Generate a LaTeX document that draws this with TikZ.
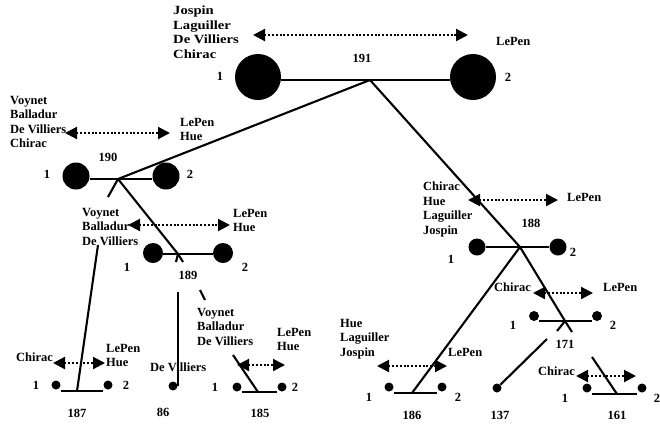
\documentclass[tikz,border=0pt]{standalone}
\usepackage{fontspec}
\setmainfont{Liberation Serif}
\newfontfamily\lbfam{Liberation Serif}
\newfontfamily\wdfam{Liberation Serif}[FakeStretch=1.17]
\usetikzlibrary{arrows.meta}
\newcommand\lbfont{\lbfam\fontsize{12.5}{14.5}\selectfont\bfseries}
\newcommand\wdfont{\wdfam\fontsize{12.5}{14.5}\selectfont\bfseries}
\begin{document}
\begin{tikzpicture}[x=1pt,y=-1pt,
  lbl/.style={font=\lbfont,inner sep=0pt,align=left,anchor=north west},
  wlbl/.style={font=\lbfont,inner sep=0pt,anchor=west},
  num/.style={font=\lbfont,inner sep=0pt},
  ball/.style={circle,fill=black,inner sep=0pt,minimum size=#1},
  link/.style={line width=2.1pt},
  pref/.style={line width=2.1pt,dash pattern=on 2pt off 1.8pt,
    {Triangle[length=12pt,width=12pt]}-{Triangle[length=12pt,width=12pt]}}]
\useasboundingbox (0,0) rectangle (660,424);

% ---------- node 191 ----------
\node[ball=46pt] (c191a) at (258,77) {};
\node[ball=46pt] (c191b) at (473,77) {};
\coordinate (j191) at (370,80);
\draw[link] (c191a.east |- j191) -- (c191b.west |- j191);
\node[lbl,font=\wdfont] (t191l) at (173,6) {Jospin\\Laguiller\\De Villiers\\Chirac};
\node[wlbl] (t191r) at (496,41) {LePen};
\coordinate (a191l) at (253,35);
\coordinate (a191r) at (468,35);
\draw[pref] (a191l) -- (a191r);
\node[num] (n191) at (362,58) {191};
\node[num] (k191a) at (220,76) {1};
\node[num] (k191b) at (508,77) {2};

% ---------- node 190 ----------
\node[ball=27pt] (c190a) at (76,176) {};
\node[ball=27pt] (c190b) at (166,176) {};
\coordinate (j190) at (118,179);
\draw[link] (c190a.east |- j190) -- (c190b.west |- j190);
\node[lbl] (t190l) at (10,96) {Voynet\\Balladur\\De Villiers\\Chirac};
\node[lbl] (t190r) at (180,118) {LePen\\Hue};
\coordinate (a190l) at (65,133);
\coordinate (a190r) at (170,133);
\draw[pref] (a190l) -- (a190r);
\node[num] (n190) at (108,157) {190};
\node[num] (k190a) at (47,174) {1};
\node[num] (k190b) at (190,174) {2};

% ---------- node 189 ----------
\node[ball=20pt] (c189a) at (153,253) {};
\node[ball=20pt] (c189b) at (223,253) {};
\coordinate (j189) at (178,254);
\draw[link] (c189a.east |- j189) -- (c189b.west |- j189);
\node[lbl] (t189l) at (82,208) {Voynet\\Balladur\\De Villiers};
\node[lbl] (t189r) at (233,209) {LePen\\Hue};
\coordinate (a189l) at (128,225);
\coordinate (a189r) at (230,225);
\draw[pref] (a189l) -- (a189r);
\node[num] (n189) at (188,275) {189};
\node[num] (k189a) at (127,267) {1};
\node[num] (k189b) at (245,267) {2};

% ---------- node 187 ----------
\node[ball=9pt] (c187a) at (56,385) {};
\node[ball=9pt] (c187b) at (108,385) {};
\coordinate (j187) at (77,391);
\draw[link] (c187a.east |- j187) -- (c187b.west |- j187);
\node[wlbl] (t187l) at (16,357) {Chirac};
\node[lbl] (t187r) at (106,344) {LePen\\Hue};
\coordinate (a187l) at (53,363);
\coordinate (a187r) at (105,363);
\draw[pref] (a187l) -- (a187r);
\node[num] (n187) at (77,413) {187};
\node[num] (k187a) at (36,385) {1};
\node[num] (k187b) at (126,385) {2};

% ---------- leaf 86 ----------
\node[ball=9pt] (d86) at (173,386) {};
\node[wlbl] (t86) at (150,367) {De Villiers};
\node[num] (n86) at (163,412) {86};

% ---------- node 185 ----------
\node[ball=9pt] (c185a) at (237,387) {};
\node[ball=9pt] (c185b) at (282,387) {};
\coordinate (j185) at (258,392);
\draw[link] (c185a.east |- j185) -- (c185b.west |- j185);
\node[lbl] (t185l) at (197,308) {Voynet\\Balladur\\De Villiers};
\node[lbl] (t185r) at (277,328) {LePen\\Hue};
\coordinate (a185l) at (237,365);
\coordinate (a185r) at (285,365);
\draw[pref] (a185l) -- (a185r);
\node[num] (n185) at (260,413) {185};
\node[num] (k185a) at (215,387) {1};
\node[num] (k185b) at (295,387) {2};

% ---------- node 188 ----------
\node[ball=17pt] (c188a) at (477,247) {};
\node[ball=17pt] (c188b) at (558,247) {};
\coordinate (j188) at (520,247);
\draw[link] (c188a.east |- j188) -- (c188b.west |- j188);
\node[lbl] (t188l) at (423,182) {Chirac\\Hue\\Laguiller\\Jospin};
\node[wlbl] (t188r) at (567,197) {LePen};
\coordinate (a188l) at (468,200);
\coordinate (a188r) at (558,200);
\draw[pref] (a188l) -- (a188r);
\node[num] (n188) at (531,223) {188};
\node[num] (k188a) at (451,259) {1};
\node[num] (k188b) at (573,252) {2};

% ---------- node 171 ----------
\node[ball=10pt] (c171a) at (534,316) {};
\node[ball=10pt] (c171b) at (597,316) {};
\coordinate (j171) at (565,321);
\draw[link] (c171a.east |- j171) -- (c171b.west |- j171);
\node[wlbl] (t171l) at (494,287) {Chirac};
\node[wlbl] (t171r) at (603,287) {LePen};
\coordinate (a171l) at (533,293);
\coordinate (a171r) at (593,293);
\draw[pref] (a171l) -- (a171r);
\node[num] (n171) at (565,344) {171};
\node[num] (k171a) at (513,325) {1};
\node[num] (k171b) at (613,325) {2};

% ---------- node 186 ----------
\node[ball=9pt] (c186a) at (389,387) {};
\node[ball=9pt] (c186b) at (442,387) {};
\coordinate (j186) at (412,393);
\draw[link] (c186a.east |- j186) -- (c186b.west |- j186);
\node[lbl] (t186l) at (340,319) {Hue\\Laguiller\\Jospin};
\node[wlbl] (t186r) at (448,352) {LePen};
\coordinate (a186l) at (377,366);
\coordinate (a186r) at (447,366);
\draw[pref] (a186l) -- (a186r);
\node[num] (n186) at (412,415) {186};
\node[num] (k186a) at (369,397) {1};
\node[num] (k186b) at (458,397) {2};

% ---------- leaf 137 ----------
\node[ball=9pt] (d137) at (497,388) {};
\node[num] (n137) at (500,415) {137};

% ---------- node 161 ----------
\node[ball=9pt] (c161a) at (587,388) {};
\node[ball=9pt] (c161b) at (642,388) {};
\coordinate (j161) at (617,394);
\draw[link] (c161a.east |- j161) -- (c161b.west |- j161);
\node[wlbl] (t161l) at (538,371) {Chirac};
\coordinate (a161l) at (576,376);
\coordinate (a161r) at (636,376);
\draw[pref] (a161l) -- (a161r);
\node[num] (n161) at (617,415) {161};
\node[num] (k161a) at (565,398) {1};
\node[num] (k161b) at (657,398) {2};

% ---------- tree connectors ----------
\draw[link] (j191) -- (j190);
\draw[link] (j191) -- (j188);
\coordinate (t190) at (108,197);
\draw[link] (j190) -- (t190);
\draw[link] (j190) -- (j189);
\coordinate (u189a) at (176,262);
\coordinate (u189b) at (183,262);
\draw[link] (j189) -- (u189a);
\draw[link] (j189) -- (u189b);
\coordinate (s187) at (98,245);
\draw[link] (s187) -- (j187);
\coordinate (s86) at (178,292);
\draw[link] (s86) -- (s86 |- d86);
\coordinate (s185a) at (200,290);
\coordinate (s185b) at (205,300);
\draw[link] (s185a) -- (s185b);
\coordinate (s185) at (233,355);
\draw[link] (s185) -- (j185);
\draw[link] (j188) -- (j186);
\draw[link] (j188) -- (j171);
\coordinate (u171a) at (557,331);
\coordinate (u171b) at (572,332);
\draw[link] (j171) -- (u171a);
\draw[link] (j171) -- (u171b);
\coordinate (s137) at (547,339);
\draw[link] (s137) -- (d137);
\coordinate (s161) at (592,357);
\draw[link] (s161) -- (j161);
\end{tikzpicture}
\end{document}
